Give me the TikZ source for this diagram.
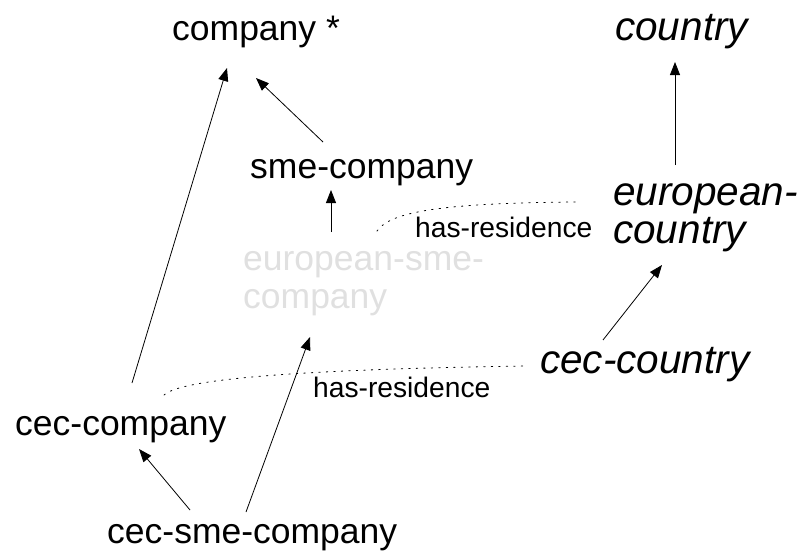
\documentclass[tikz,border=0pt]{standalone}
\usepackage{fontspec}
\setmainfont{Liberation Sans}
\usetikzlibrary{arrows.meta}
\definecolor{ghost}{gray}{0.88}

\begin{document}
\begin{tikzpicture}[x=1pt,y=-1pt,
    every node/.style={inner sep=0pt,anchor=base west,font=\fontsize{35.5}{38}\selectfont},
    land/.style={font=\fontsize{40.5}{38}\selectfont\itshape},
    isa/.style={-{Triangle[length=13pt,width=10pt]},line width=0.8pt},
    rel/.style={line width=0.8pt,dash pattern=on 1.5pt off 6pt,line cap=round},
    small/.style={font=\fontsize{28.2}{32}\selectfont}]
    \useasboundingbox (0,0) rectangle (804,554);
    %% company side
    \node (company)    at (172,40)  {company *};
    \node (sme)        at (250,178) {sme-company};
    \node (esme)       at (243,308) [align=left,text=ghost] {european-sme-\\company};
    \node (ceccompany) at (15,435)  {cec-company};
    \node (cecsme)     at (107,543) {cec-sme-company};
    %% country side
    \node (country)    at (615,40)  [land] {country};
    \node (eucountry)  at (613,243) [land,align=left] {european-\\country};
    \node (ceccountry) at (540,373) [land] {cec-country};
    %% is-a links
    \draw[isa] ([xshift=117pt,yshift=52pt]ceccompany.base west) -- ([xshift=55pt,yshift=-28pt]company.base west);
    \draw[isa] ([xshift=73pt,yshift=36pt]sme.base west) -- ([xshift=84pt,yshift=-38pt]company.base west);
    \draw[isa] ([xshift=88pt,yshift=76pt]esme.base west) -- ([xshift=81pt,yshift=-12pt]sme.base west);
    \draw[isa] ([xshift=62pt,yshift=78pt]eucountry.base west) -- ([xshift=60pt,yshift=-22pt]country.base west);
    \draw[isa] ([xshift=63pt,yshift=33pt]ceccountry.base west) -- ([xshift=49pt,yshift=-22pt]eucountry.base west);
    \draw[isa] ([xshift=83pt,yshift=33pt]cecsme.base west) -- ([xshift=124pt,yshift=-14pt]ceccompany.base west);
    \draw[isa] ([xshift=139pt,yshift=31pt]cecsme.base west) -- ([xshift=67pt,yshift=-29pt]esme.base west);
    %% has-residence
    \draw[rel] ([xshift=134pt,yshift=77pt]esme.base west) .. controls +(13,-19) and +(-137,1) ..
        ([xshift=-36pt,yshift=41pt]eucountry.base west);
    \node (hr1) at (415,237) [small] {has-residence};
    \draw[rel] ([xshift=149pt,yshift=40pt]ceccompany.base west) .. controls +(14,-13) and +(-265,4) ..
        ([xshift=-15pt,yshift=7pt]ceccountry.base west);
    \node (hr2) at (313,397) [small] {has-residence};
\end{tikzpicture}
\end{document}
